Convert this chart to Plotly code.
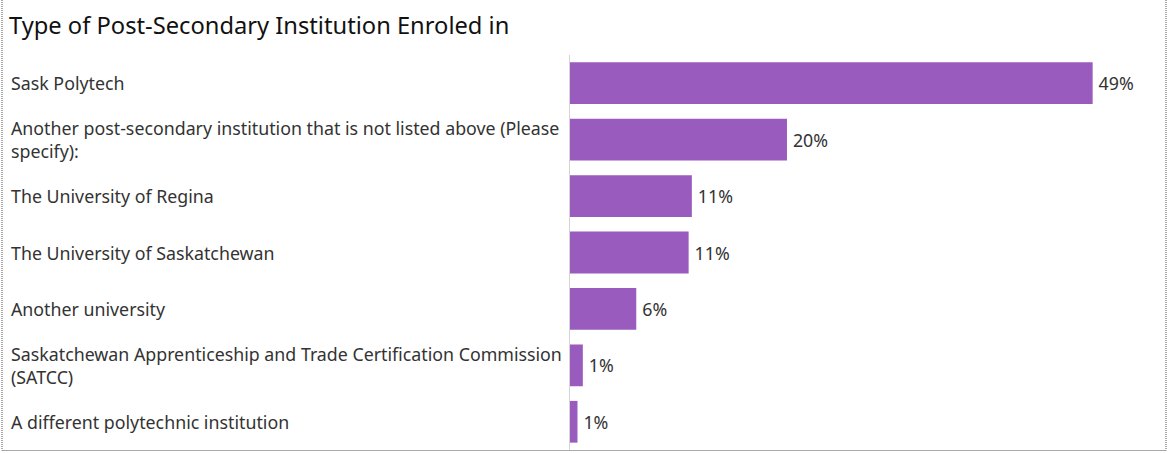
import plotly.graph_objects as go

categories = [
    "Sask Polytech",
    "Another post-secondary institution that is not listed above (Please<br>specify):",
    "The University of Regina",
    "The University of Saskatchewan",
    "Another university",
    "Saskatchewan Apprenticeship and Trade Certification Commission<br>(SATCC)",
    "A different polytechnic institution",
]
values = [48.9, 20.3, 11.4, 11.1, 6.2, 1.2, 0.7]
value_labels = ["49%", "20%", "11%", "11%", "6%", "1%", "1%"]
title_text = "Type of Post-Secondary Institution Enroled in"

W, H = 1169, 453
ML, MR, MT, MB = 570, 9, 55, 3
PW, PH = W - ML - MR, H - MT - MB

font_family = "Noto Sans"
text_color = "#333333"


def px_x(p):
    return (p - ML) / PW


def px_y(p):
    return (H - MB - p) / PH


fig = go.Figure()
fig.add_trace(go.Bar(
    x=values,
    y=categories,
    orientation="h",
    marker=dict(color="#9a5bbe", line=dict(width=0)),
    width=0.74,
    text=value_labels,
    texttemplate="\u2009%{text}",
    textposition="outside",
    cliponaxis=False,
    textfont=dict(family=font_family, size=17.8, color=text_color),
    hoverinfo="skip",
))

annotations = []
for c in categories:
    annotations.append(dict(
        x=px_x(9), xref="paper", xanchor="left",
        y=c, yref="y", yanchor="middle",
        text=c, showarrow=False, align="left",
        font=dict(family=font_family, size=17.8, color=text_color),
    ))
annotations.append(dict(
    x=px_x(7), xref="paper", xanchor="left",
    y=px_y(25), yref="paper", yanchor="middle",
    text=title_text, showarrow=False,
    font=dict(family=font_family, size=23.7, color="#111111"),
))

border = (f"M {px_x(2)} {px_y(-10)} L {px_x(2)} {px_y(450.5)} "
          f"L {px_x(1166)} {px_y(450.5)} L {px_x(1166)} {px_y(-10)}")

fig.update_layout(
    width=W, height=H,
    margin=dict(l=ML, r=MR, t=MT, b=MB),
    paper_bgcolor="white", plot_bgcolor="white",
    showlegend=False,
    bargap=0.26,
    xaxis=dict(range=[0, 55.2], showgrid=False, zeroline=False,
               showticklabels=False, showline=False, fixedrange=True),
    yaxis=dict(autorange="reversed", showticklabels=False, showgrid=False,
               zeroline=False, showline=True, linecolor="#d4d4d4", linewidth=1,
               ticks="", fixedrange=True),
    annotations=annotations,
    shapes=[dict(type="path", xref="paper", yref="paper", path=border,
                 line=dict(color="#555555", width=1, dash="1px,1px"))],
)

fig.write_html("out.html", config={"displayModeBar": False},
               post_script="document.body.style.margin='0';document.body.style.overflow='hidden';")
